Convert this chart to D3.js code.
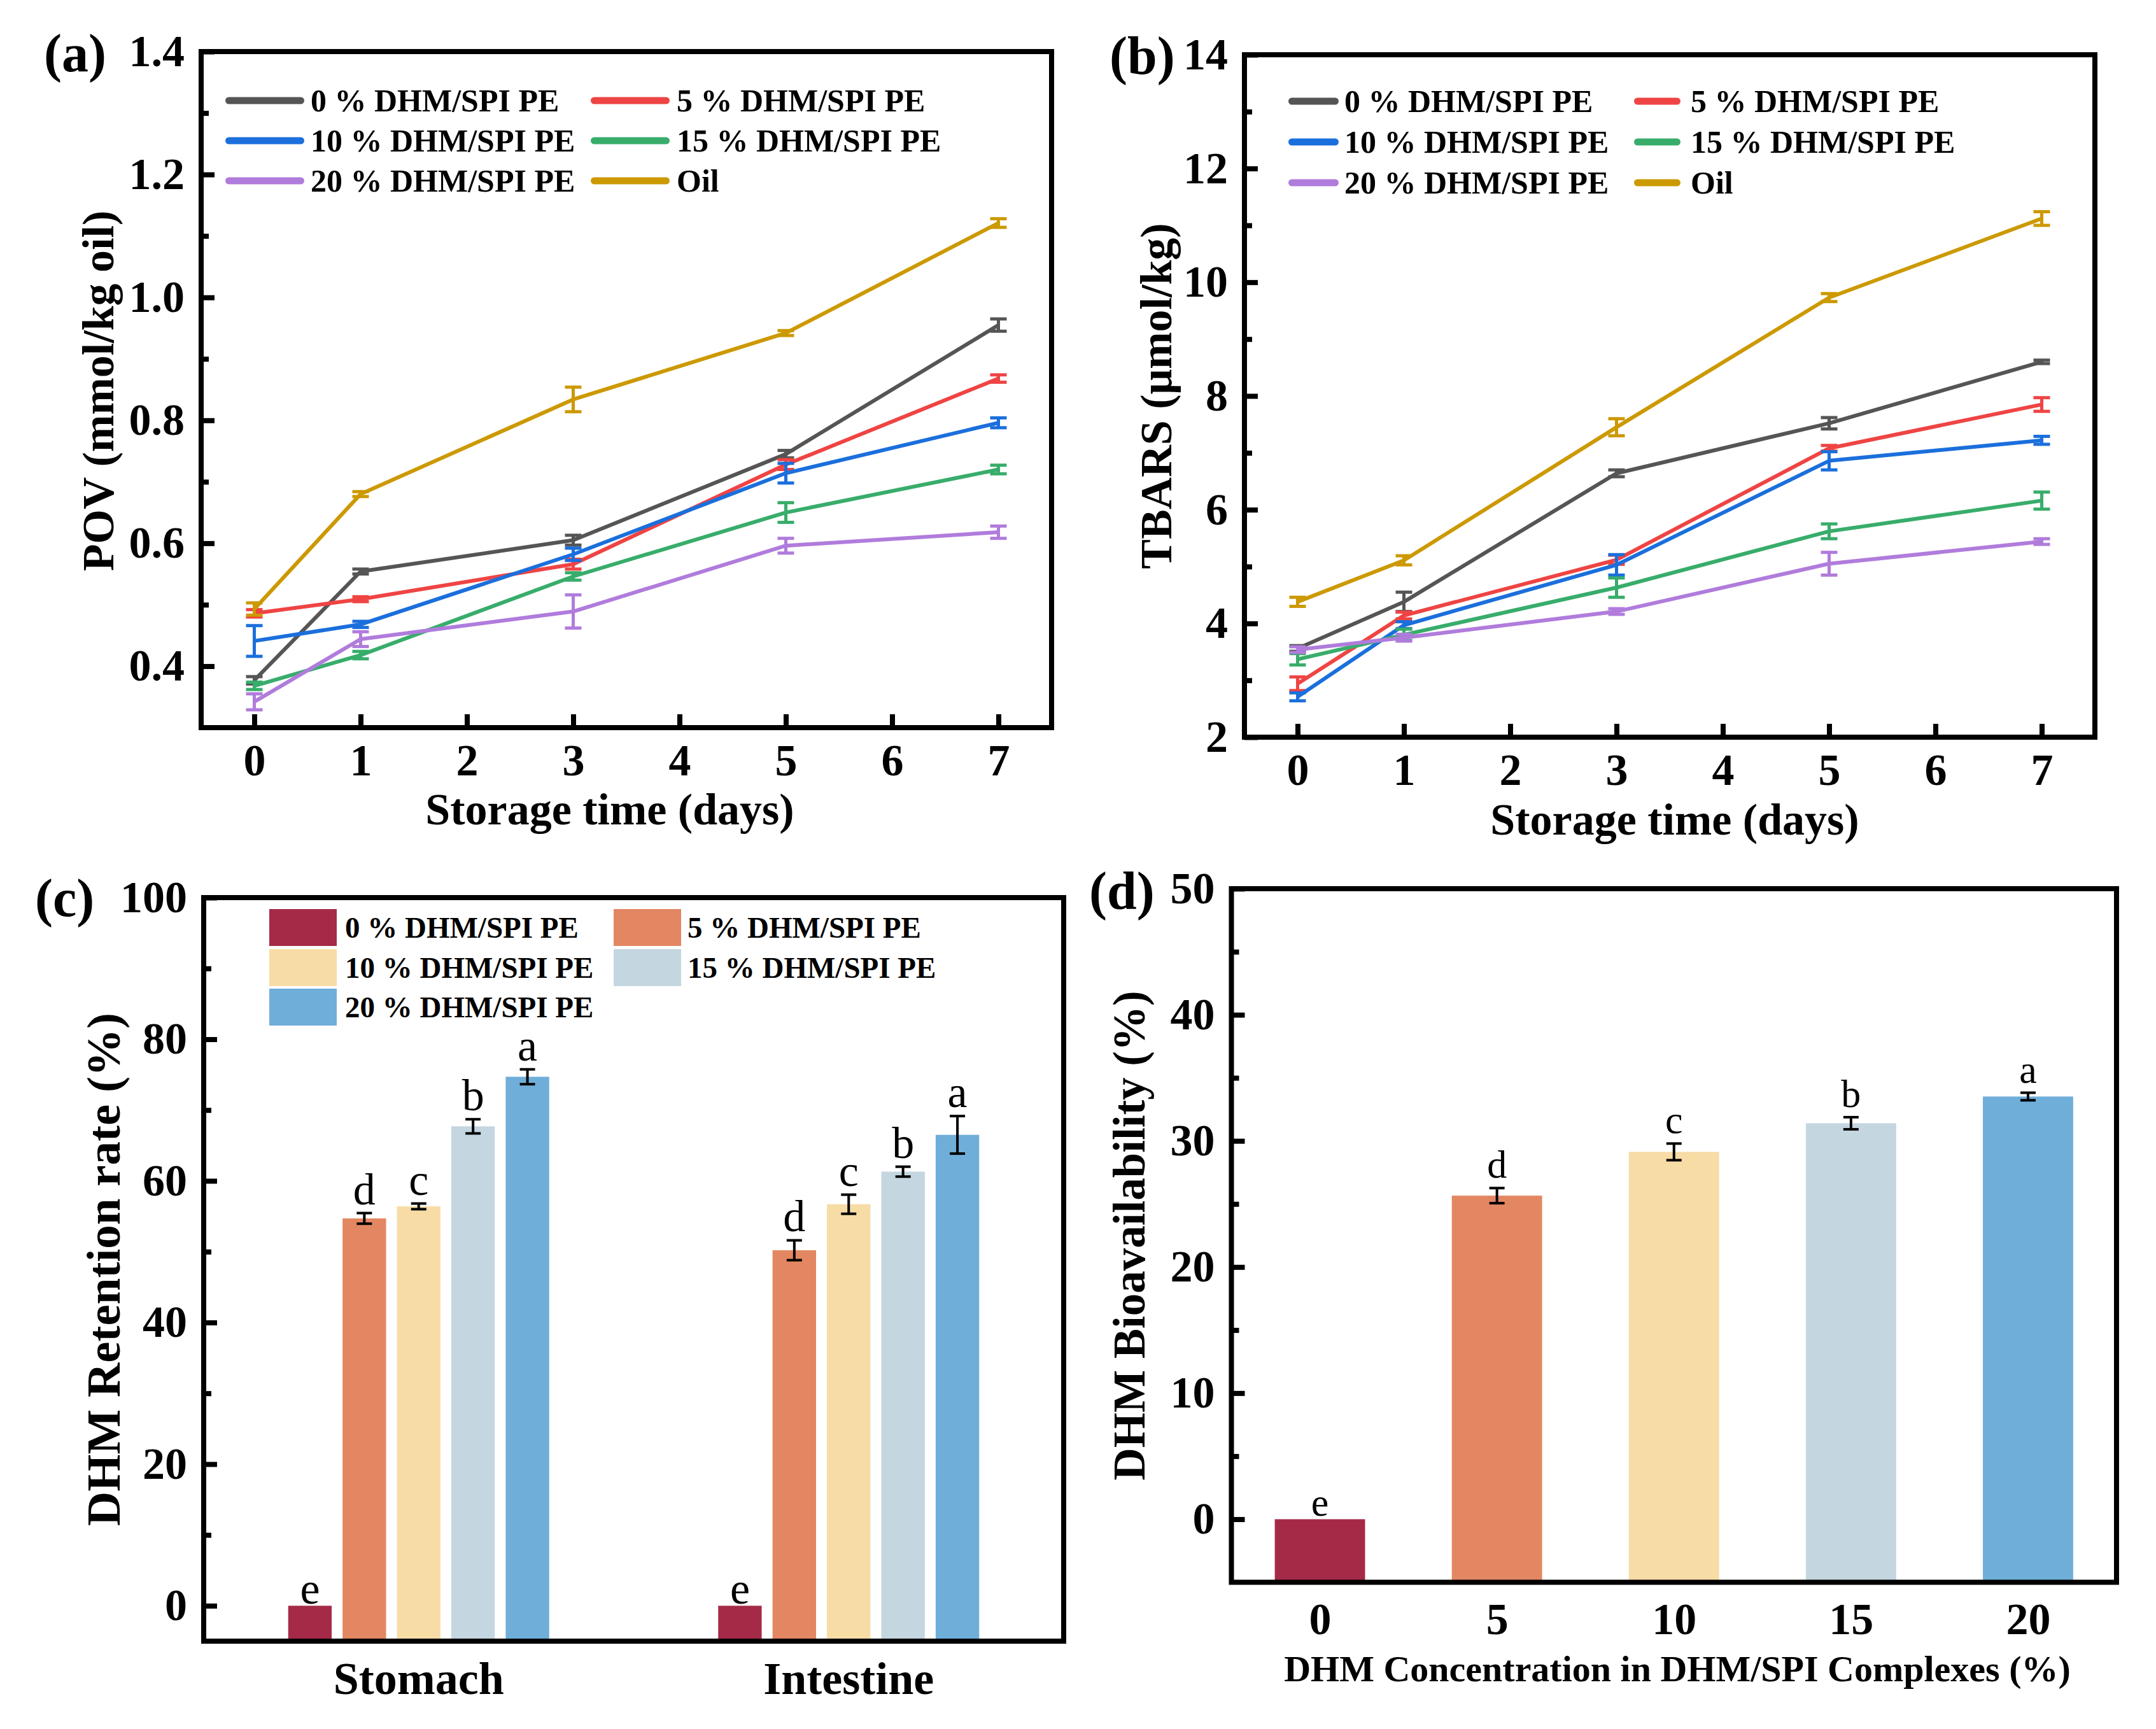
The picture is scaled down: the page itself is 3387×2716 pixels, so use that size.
<!DOCTYPE html>
<html>
<head>
<meta charset="utf-8">
<script src="https://cdn.jsdelivr.net/npm/d3@7"></script>
<style>
  body { margin: 0; background: #fff; }
</style>
</head>
<body>
<svg id="fig"></svg>
<script>
// storage days used in (a) and (b)
const days = [0, 1, 3, 5, 7];
const lineSeries = ["0 % DHM/SPI PE", "5 % DHM/SPI PE", "10 % DHM/SPI PE", "15 % DHM/SPI PE", "20 % DHM/SPI PE", "Oil"];

// (a) POV, mmol/kg oil
const povMean = [
  [0.377, 0.554, 0.605, 0.745, 0.955],
  [0.486, 0.509, 0.566, 0.728, 0.868],
  [0.441, 0.468, 0.582, 0.714, 0.796],
  [0.368, 0.418, 0.546, 0.650, 0.720],
  [0.342, 0.444, 0.489, 0.596, 0.618],
  [0.493, 0.680, 0.834, 0.942, 1.121]
];
const povErr = [
  [0.006, 0.004, 0.008, 0.006, 0.010],
  [0.006, 0.004, 0.008, 0.008, 0.006],
  [0.025, 0.005, 0.010, 0.016, 0.008],
  [0.006, 0.006, 0.006, 0.016, 0.007],
  [0.013, 0.012, 0.027, 0.012, 0.010],
  [0.010, 0.004, 0.020, 0.004, 0.007]
];

// (b) TBARS, umol/kg
const tbarsMean = [
  [3.56, 4.38, 6.64, 7.52, 8.60],
  [2.94, 4.14, 5.12, 7.08, 7.85],
  [2.71, 3.97, 5.03, 6.86, 7.22],
  [3.37, 3.80, 4.63, 5.62, 6.16],
  [3.54, 3.75, 4.21, 5.05, 5.44],
  [4.38, 5.11, 7.45, 9.73, 11.12]
];
const tbarsErr = [
  [0.05, 0.17, 0.06, 0.10, 0.03],
  [0.12, 0.06, 0.08, 0.05, 0.12],
  [0.07, 0.06, 0.18, 0.16, 0.07],
  [0.10, 0.10, 0.17, 0.13, 0.15],
  [0.05, 0.06, 0.05, 0.20, 0.05],
  [0.08, 0.08, 0.15, 0.07, 0.12]
];

// (c) retention, one row per emulsion, columns = phases
const phases = ["Stomach", "Intestine"];
const barSeries = ["0 % DHM/SPI PE", "5 % DHM/SPI PE", "10 % DHM/SPI PE", "15 % DHM/SPI PE", "20 % DHM/SPI PE"];
const retention = [
  [0, 0],
  [54.7, 50.2],
  [56.4, 56.7],
  [67.7, 61.3],
  [74.7, 66.5]
];
const retentionErr = [
  [0, 0],
  [0.75, 1.4],
  [0.4, 1.35],
  [1.0, 0.7],
  [1.05, 2.65]
];
const retentionLetters = [["e", "e"], ["d", "d"], ["c", "c"], ["b", "b"], ["a", "a"]];

// (d) bioavailability
const conc = [0, 5, 10, 15, 20];
const bio = [0, 25.66, 29.13, 31.4, 33.52];
const bioErr = [0, 0.6, 0.66, 0.48, 0.3];
const bioLetters = ["e", "d", "c", "b", "a"];

const lineColors = ["#555555", "#EF4444", "#1B6FDC", "#38AD6B", "#B07CDC", "#CC9900"];
const barColors = ["#A52A48", "#E38762", "#F7DCA6", "#C4D6E0", "#6FAED9"];

const FONT = "'Liberation Serif','Times New Roman',serif";
const W = 3387, H = 2716;

const svg = d3.select("#fig").attr("width", W).attr("height", H);
svg.append("rect").attr("width", W).attr("height", H).attr("fill", "#fff");

function styleAxis(sel, size) {
  sel.select(".domain").remove();
  sel.selectAll(".tick line").attr("stroke", "#000").attr("stroke-width", 8);
  sel.selectAll(".tick text")
    .attr("font-family", FONT).attr("font-weight", "bold")
    .attr("font-size", size).attr("fill", "#000");
}

function yAxis(g, y, f, major, minor) {
  g.append("g").attr("transform", `translate(${f.l},0)`)
    .call(d3.axisLeft(y).tickValues(major).tickSize(-21).tickPadding(26).tickFormat(y.fmt))
    .call(styleAxis, 70);
  g.append("g").attr("transform", `translate(${f.l},0)`)
    .call(d3.axisLeft(y).tickValues(minor).tickSize(-12).tickFormat(""))
    .call(styleAxis, 70);
}

function frame(g, f) {
  g.append("rect")
    .attr("x", f.l).attr("y", f.t)
    .attr("width", f.r - f.l).attr("height", f.b - f.t)
    .attr("fill", "none").attr("stroke", "#000").attr("stroke-width", 8);
}

function label(g, txt, x, y, size, opts = {}) {
  const t = g.append("text")
    .attr("font-family", FONT).attr("font-weight", opts.weight || "bold")
    .attr("font-size", size).attr("fill", "#000")
    .attr("text-anchor", opts.anchor || "start")
    .text(txt);
  if (opts.rotate) t.attr("transform", `translate(${x},${y}) rotate(-90)`);
  else t.attr("x", x).attr("y", y);
  return t;
}

function linePanel(c) {
  const g = svg.append("g");
  const f = c.f;
  const x = d3.scaleLinear().domain([-0.5, 7.5]).range([f.l, f.r]);
  const y = d3.scaleLinear().domain(c.yDom).range([f.b, f.t]);
  y.fmt = c.fmt;

  g.append("g").attr("transform", `translate(0,${f.b})`)
    .call(d3.axisBottom(x).tickValues(d3.range(0, 8)).tickSize(-21).tickPadding(25).tickFormat(d3.format("d")))
    .call(styleAxis, 70);
  yAxis(g, y, f, c.major, c.minor);

  const line = d3.line().x((d, i) => x(days[i])).y(d => y(d));
  c.means.forEach((m, s) => {
    const col = lineColors[s];
    g.append("path").datum(m).attr("d", line)
      .attr("fill", "none").attr("stroke", col)
      .attr("stroke-width", 6).attr("stroke-linejoin", "round");
    const eb = g.append("g").attr("stroke", col).attr("stroke-width", 5);
    m.forEach((v, i) => {
      const e = c.errs[s][i], cx = x(days[i]);
      eb.append("line").attr("x1", cx).attr("x2", cx).attr("y1", y(v - e)).attr("y2", y(v + e));
      [v - e, v + e].forEach(w => {
        eb.append("line").attr("x1", cx - 13).attr("x2", cx + 13).attr("y1", y(w)).attr("y2", y(w));
      });
    });
  });

  // legend, two columns
  const L = c.legend;
  lineSeries.forEach((name, i) => {
    const col = i % 2, row = Math.floor(i / 2);
    const yy = L.rows[row];
    g.append("line")
      .attr("x1", L.sw[col][0] + 5.5).attr("x2", L.sw[col][1] - 5.5)
      .attr("y1", yy).attr("y2", yy)
      .attr("stroke", lineColors[i]).attr("stroke-width", 11).attr("stroke-linecap", "round");
    label(g, name, L.tx[col], yy + 16.5, 50);
  });

  frame(g, f);
  label(g, "Storage time (days)", c.xTitle[0], c.xTitle[1], 70, { anchor: "middle" });
  label(g, c.yTitle, c.yTitlePos[0], c.yTitlePos[1], 70, { anchor: "middle", rotate: true });
  label(g, c.tag, c.tagPos[0], c.tagPos[1], 84);
}

linePanel({
  f: { l: 316, r: 1652, t: 81, b: 1143 },
  yDom: [0.3, 1.4], fmt: d3.format(".1f"),
  major: [0.4, 0.6, 0.8, 1.0, 1.2, 1.4], minor: [0.5, 0.7, 0.9, 1.1, 1.3],
  means: povMean, errs: povErr,
  legend: { rows: [158, 221, 284], sw: [[354, 478], [928, 1052]], tx: [488, 1063] },
  xTitle: [958, 1295], yTitle: "POV (mmol/kg oil)", yTitlePos: [178, 614],
  tag: "(a)", tagPos: [69, 112]
});

linePanel({
  f: { l: 1955, r: 3291, t: 86, b: 1158 },
  yDom: [2, 14], fmt: d3.format("d"),
  major: [2, 4, 6, 8, 10, 12, 14], minor: [3, 5, 7, 9, 11, 13],
  means: tbarsMean, errs: tbarsErr,
  legend: { rows: [159, 223, 287], sw: [[2024, 2103], [2567, 2640]], tx: [2112, 2656] },
  xTitle: [2631, 1311], yTitle: "TBARS (\u03bcmol/kg)", yTitlePos: [1840, 622],
  tag: "(b)", tagPos: [1743, 116]
});

// ---- (c) grouped bars ----
(function () {
  const g = svg.append("g");
  const f = { l: 320, r: 1671, t: 1410, b: 2578 };
  const x0 = d3.scaleBand().domain(phases).range([f.l, f.r]).padding(0);
  const x1 = d3.scaleBand().domain(barSeries).range([-205, 205]).paddingInner(0.2);
  const y = d3.scaleLinear().domain([-5, 100]).range([f.b, f.t]);
  y.fmt = d3.format("d");

  barSeries.forEach((s, si) => {
    phases.forEach((p, pi) => {
      const v = retention[si][pi], e = retentionErr[si][pi];
      const bx = x0(p) + x0.bandwidth() / 2 + x1(s);
      const cx = bx + x1.bandwidth() / 2;
      g.append("rect").attr("x", bx).attr("width", x1.bandwidth())
        .attr("y", y(v)).attr("height", y(-5) - y(v)).attr("fill", barColors[si]);
      if (e > 0) {
        const eb = g.append("g").attr("stroke", "#000").attr("stroke-width", 4);
        eb.append("line").attr("x1", cx).attr("x2", cx).attr("y1", y(v - e)).attr("y2", y(v + e));
        [v - e, v + e].forEach(w => eb.append("line").attr("x1", cx - 12).attr("x2", cx + 12).attr("y1", y(w)).attr("y2", y(w)));
      }
      label(g, retentionLetters[si][pi], cx, y(v + e) - (e > 0 ? 14 : 3), 70, { anchor: "middle", weight: "normal" });
    });
  });

  g.append("g").attr("transform", `translate(0,${f.b})`)
    .call(d3.axisBottom(x0).tickSize(0).tickPadding(32))
    .call(styleAxis, 72);
  yAxis(g, y, f, [0, 20, 40, 60, 80, 100], [10, 30, 50, 70, 90]);

  const rows = [1457, 1520, 1582], swx = [423, 964], tx = [542, 1080];
  barSeries.forEach((s, i) => {
    const col = i % 2, row = Math.floor(i / 2);
    g.append("rect").attr("x", swx[col]).attr("y", rows[row] - 29)
      .attr("width", 106).attr("height", 58).attr("fill", barColors[i]);
    label(g, s, tx[col], rows[row] + 15.5, 47);
  });

  frame(g, f);
  label(g, "DHM Retention rate (%)", 188, 1994, 75, { anchor: "middle", rotate: true });
  label(g, "(c)", 55, 1439, 84);
})();

// ---- (d) bars ----
(function () {
  const g = svg.append("g");
  const f = { l: 1934.5, r: 3325, t: 1396, b: 2485.5 };
  const x = d3.scaleLinear().domain([-2.5, 22.5]).range([f.l, f.r]);
  const y = d3.scaleLinear().domain([-5, 50]).range([f.b, f.t]);
  y.fmt = d3.format("d");
  const bw = x(2.55) - x(0);

  conc.forEach((c, i) => {
    const v = bio[i], e = bioErr[i], cx = x(c);
    g.append("rect").attr("x", cx - bw / 2).attr("width", bw)
      .attr("y", y(v)).attr("height", y(-5) - y(v)).attr("fill", barColors[i]);
    if (e > 0) {
      const eb = g.append("g").attr("stroke", "#000").attr("stroke-width", 4);
      eb.append("line").attr("x1", cx).attr("x2", cx).attr("y1", y(v - e)).attr("y2", y(v + e));
      [v - e, v + e].forEach(w => eb.append("line").attr("x1", cx - 12).attr("x2", cx + 12).attr("y1", y(w)).attr("y2", y(w)));
    }
    label(g, bioLetters[i], cx, y(v + e) - (e > 0 ? 16 : 5), 62, { anchor: "middle", weight: "normal" });
  });

  g.append("g").attr("transform", `translate(0,${f.b})`)
    .call(d3.axisBottom(x).tickValues(conc).tickSize(0).tickPadding(32).tickFormat(d3.format("d")))
    .call(styleAxis, 70);
  yAxis(g, y, f, [0, 10, 20, 30, 40, 50], [5, 15, 25, 35, 45]);

  frame(g, f);
  label(g, "DHM Concentration in DHM/SPI Complexes (%)", 2635, 2641, 58, { anchor: "middle" });
  label(g, "DHM Bioavailability (%)", 1798, 1941, 71, { anchor: "middle", rotate: true });
  label(g, "(d)", 1711, 1428, 84);
})();
</script>
</body>
</html>
